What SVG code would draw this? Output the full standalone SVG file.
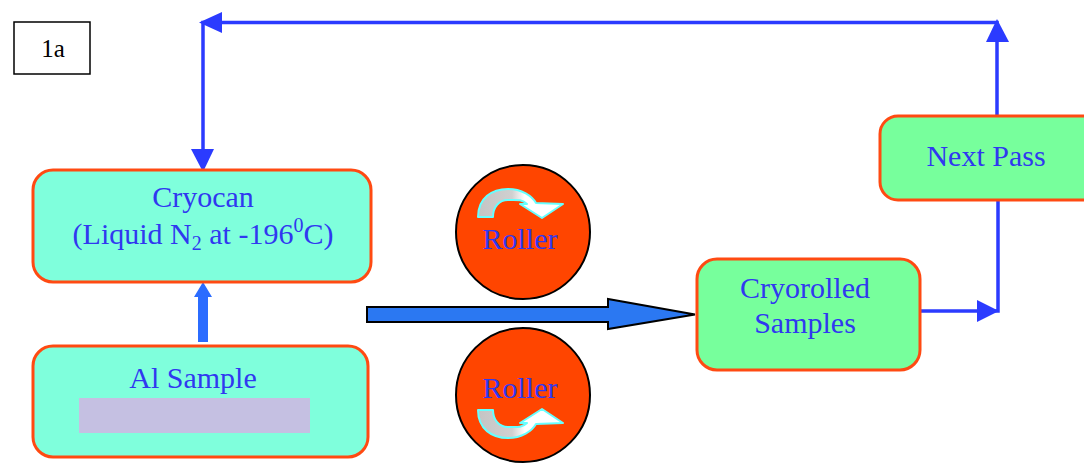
<svg xmlns="http://www.w3.org/2000/svg" width="1084" height="465" viewBox="0 0 1084 465">
<defs>
<style>
.box{stroke:#FF4A12;stroke-width:3}
.aq{fill:#7FFFDC}
.gr{fill:#77FF9C}
.t{font-family:"Liberation Serif","Times New Roman",serif;font-size:30px;fill:#3038F0;text-anchor:middle}
.conn{stroke:#2B3BFF;stroke-width:3.5;fill:none}
.head{fill:#2B3BFF}
.roller{fill:#FF4500;stroke:#000;stroke-width:2}
.curl{fill:url(#cg);stroke:#66FFFF;stroke-width:2;stroke-linejoin:round}
</style>
<linearGradient id="cg" x1="0" y1="0" x2="1" y2="0">
<stop offset="0" stop-color="#C4C4C4"/>
<stop offset="0.4" stop-color="#D0D0D0"/>
<stop offset="0.55" stop-color="#FFFFFF"/>
<stop offset="1" stop-color="#FFFFFF"/>
</linearGradient>
</defs>
<rect width="1084" height="465" fill="#fff"/>

<g id="label1a">
<rect x="14" y="22" width="76" height="52" fill="#fff" stroke="#000" stroke-width="1.5"/>
<text x="53" y="57" style="font-family:'Liberation Serif',serif;font-size:25px;fill:#000;text-anchor:middle">1a</text>
</g>

<g id="connectors">
<polyline class="conn" points="997,116 997,22.5 203,22.5 203,152"/>
<polygon class="head" points="997,19 986,42 1009,42"/>
<polygon class="head" points="199,22.5 222,12 222,33"/>
<polygon class="head" points="203,172 191,149 214,149"/>
<polyline class="conn" points="920,311 998,311 998,200"/>
<polygon class="head" points="999,311 977,300 977,322"/>
<polygon points="198,342 198,297 194,297 203,282 212,297 208,297 208,342" fill="#2B6CFF"/>
<polygon points="367,307 608,307 608,299 695,314.5 608,329 608,322 367,322" fill="#2B78F2" stroke="#000" stroke-width="2"/>
</g>

<g id="cryocan">
<rect class="box aq" x="33" y="170" width="338" height="112" rx="20"/>
<text class="t" x="203" y="207">Cryocan</text>
<text class="t" x="203" y="244">(Liquid N<tspan font-size="20" dy="6">2</tspan><tspan dy="-6"> at -196</tspan><tspan font-size="20" dy="-12">0</tspan><tspan dy="12">C)</tspan></text>
</g>

<g id="al-sample">
<rect class="box aq" x="33" y="346" width="335" height="111" rx="20"/>
<text class="t" x="193" y="388">Al Sample</text>
<rect x="79" y="398" width="231" height="35" fill="#C5C0E2"/>
</g>

<g id="roller-top">
<circle class="roller" cx="523" cy="232" r="67"/>
<path class="curl" d="M478,217 C478,198 492,189 508,189 C522,189 532,196 536,203 L563,204 L542,218 L520,204 L527,204 C522,199 516,200 508,200 C499,200 493,207 493,217 Z"/>
<text class="t" x="520" y="249">Roller</text>
</g>

<g id="roller-bottom">
<circle class="roller" cx="523" cy="395" r="67"/>
<path class="curl" transform="translate(0,627) scale(1,-1)" d="M478,217 C478,198 492,189 508,189 C522,189 532,196 536,203 L563,204 L542,218 L520,204 L527,204 C522,199 516,200 508,200 C499,200 493,207 493,217 Z"/>
<text class="t" x="520" y="398">Roller</text>
</g>

<g id="cryorolled">
<rect class="box gr" x="697" y="259" width="223" height="111" rx="20"/>
<text class="t" x="805" y="298">Cryorolled</text>
<text class="t" x="805" y="333">Samples</text>
</g>

<g id="next-pass">
<rect class="box gr" x="880" y="116" width="220" height="84" rx="18"/>
<text class="t" x="986" y="166">Next Pass</text>
</g>
</svg>
